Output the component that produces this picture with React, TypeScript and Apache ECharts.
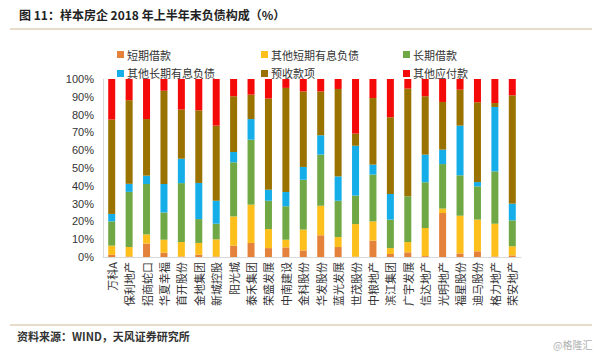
import React, { useEffect, useRef } from "react";
import * as echarts from "echarts";

const categories = ["万科A","保利地产","招商蛇口","华夏幸福","首开股份","金地集团","新城控股","阳光城","泰禾集团","荣盛发展","中南建设","金科股份","华发股份","蓝光发展","世茂股份","中粮地产","滨江集团","广宇发展","信达地产","光明地产","福星股份","迪马股份","格力地产","荣安地产"];
const shortLoan = [1.2,0.3,7.5,2.4,0.3,1.3,0.3,6.4,7.9,5,5.4,3.7,12.2,5.6,0.2,9.2,1.7,2.6,0.5,24.7,2,3.2,0.3,0.9];
const otherShort = [5.2,5.3,5.2,7.3,8.1,6.6,9.6,16.4,21.5,10.7,4.3,11.7,16.6,5.6,18.3,10.8,3.3,5.8,15.8,2.5,21.2,17.8,18.4,5.1];
const longLoan = [13.6,31,28.3,15.3,33.1,13.4,8.8,30.4,36.5,15.9,18.8,28,28.7,20.4,16,26.3,16,25.7,25.7,25,22.7,18.7,29.4,14.6];
const otherLong = [4.2,4.5,4.7,16,13.7,20.3,12.9,5.8,11.6,6.2,8,7.2,10.9,13.7,28,5.6,14.4,0,15.5,8.1,27.9,2.4,36.2,9.4];
const advance = [53,47,31.8,52.4,27.6,40.8,42.2,31.3,13.7,51.2,58.5,42.4,24.6,49.1,6.8,37.4,43.1,60.5,32.8,26.8,20.2,44.8,2.2,60.8];
const otherPay = [22.8,11.9,22.5,6.6,17.2,17.6,26.2,9.7,8.8,11,5,7,7,5.6,30.7,10.7,21.5,5.4,9.7,12.9,6,13.1,13.5,9.2];

const seriesNames = ["短期借款","其他短期有息负债","长期借款","其他长期有息负债","预收款项","其他应付款"];
const seriesData = [shortLoan, otherShort, longLoan, otherLong, advance, otherPay];
const colors = ["#E4823C","#FCBF1C","#70A846","#16AEE8","#9A7200","#F50A0A"];

const CJK = '"Noto Sans CJK SC", "Noto Sans", sans-serif';

export default function App() {
  const ref = useRef<HTMLDivElement>(null);
  useEffect(() => {
    const chart = echarts.init(ref.current!, null, { renderer: "svg" });
    const legendCols = [
      { left: 112, names: [seriesNames[0], seriesNames[3]] },
      { left: 256, names: [seriesNames[1], seriesNames[4]] },
      { left: 398, names: [seriesNames[2], seriesNames[5]] },
    ];
    chart.setOption({
      animation: false,
      backgroundColor: "#ffffff",
      color: colors,
      grid: { left: 103, right: 79, top: 79, bottom: 99, containLabel: false },
      legend: legendCols.map((c) => ({
        orient: "vertical",
        left: c.left,
        top: 44,
        itemWidth: 7,
        itemHeight: 7,
        itemGap: 8,
        icon: "rect",
        data: c.names,
        textStyle: { fontSize: 11, color: "#333", fontFamily: CJK, padding: [0, 0, 0, -2] },
      })),
      xAxis: {
        type: "category",
        data: categories,
        axisLine: { lineStyle: { color: "#D9D9D9" } },
        axisTick: { show: false },
        axisLabel: { rotate: 90, interval: 0, fontSize: 11, color: "#333", fontFamily: CJK, margin: 5 },
      },
      yAxis: {
        type: "value",
        min: 0,
        max: 100,
        interval: 10,
        axisLine: { show: true, lineStyle: { color: "#D9D9D9" } },
        axisTick: { show: false },
        splitLine: { show: false },
        axisLabel: { formatter: "{value}%", fontSize: 11, color: "#333", fontFamily: "Liberation Sans, Arial, sans-serif", margin: 9 },
      },
      series: seriesNames.map((name, i) => ({
        name,
        type: "bar",
        stack: "total",
        barWidth: 7,
        data: seriesData[i],
        itemStyle: { color: colors[i] },
      })),
      graphic: [
        { type: "text", left: 19, top: 8, style: { text: "图 11：样本房企 2018 年上半年末负债构成（%）", font: `bold 12px ${CJK}`, fill: "#222" } },
        { type: "line", shape: { x1: 10, y1: 29, x2: 592, y2: 29 }, style: { stroke: "#E6DCC8", lineWidth: 2 } },
        { type: "line", shape: { x1: 10, y1: 325, x2: 592, y2: 325 }, style: { stroke: "#E6DCC8", lineWidth: 2 } },
        { type: "text", left: 17, top: 330, style: { text: "资料来源：WIND，天风证券研究所", font: `bold 11px ${CJK}`, fill: "#333" } },
        { type: "text", left: 553, top: 339, style: { text: "@格隆汇", font: `10px ${CJK}`, fill: "#B0B0B0" } },
      ],
    });
    return () => chart.dispose();
  }, []);
  return <div ref={ref} style={{ position: "fixed", left: 0, top: 0, width: 600, height: 356 }} />;
}
